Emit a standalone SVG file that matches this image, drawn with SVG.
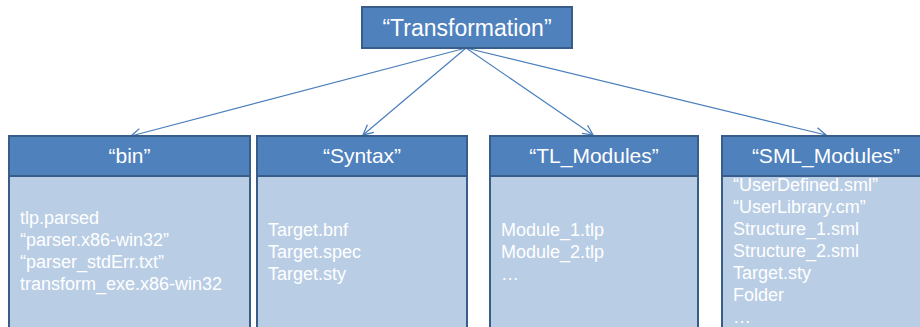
<svg xmlns="http://www.w3.org/2000/svg" width="920" height="327" viewBox="0 0 920 327">
  <style>
    .head { fill: #4f81bd; stroke: #385d8a; stroke-width: 2; }
    .body { fill: #b9cde5; stroke: #385d8a; stroke-width: 2; }
    .title { font-family: "Liberation Sans", Arial, sans-serif; fill: #ffffff; text-anchor: middle; }
    .item { font-family: "Liberation Sans", Arial, sans-serif; font-size: 18px; fill: #ffffff; }
    .link { stroke: #4a7ebb; stroke-width: 1.2; fill: none; marker-end: url(#arrow); }
  </style>
  <defs>
    <marker id="arrow" viewBox="0 0 12 12" refX="11" refY="6" markerWidth="12" markerHeight="12" markerUnits="userSpaceOnUse" orient="auto">
      <path d="M1,1 L11,6 L1,11" fill="none" stroke="#4a7ebb" stroke-width="1.3"/>
    </marker>
  </defs>

  <rect width="920" height="327" fill="#ffffff"/>

  <!-- connectors from the root folder to its sub-folders -->
  <g id="connectors">
    <line class="link" x1="466" y1="48" x2="131" y2="136"/>
    <line class="link" x1="466" y1="48" x2="363" y2="135"/>
    <line class="link" x1="466" y1="48" x2="593" y2="135"/>
    <line class="link" x1="466" y1="48" x2="826" y2="135"/>
  </g>

  <g id="transformation">
    <rect class="head" x="362" y="7" width="210" height="41"/>
    <text class="title" x="467" y="36" font-size="23">“Transformation”</text>
  </g>

  <g id="bin">
    <rect class="body" x="9" y="136" width="241" height="210"/>
    <rect class="head" x="9" y="136" width="241" height="40"/>
    <text class="title" x="129.5" y="163" font-size="21">“bin”</text>
    <text class="item" x="20" y="224">tlp.parsed</text>
    <text class="item" x="20" y="246">“parser.x86-win32”</text>
    <text class="item" x="20" y="268">“parser_stdErr.txt”</text>
    <text class="item" x="20" y="290">transform_exe.x86-win32</text>
  </g>

  <g id="syntax">
    <rect class="body" x="257" y="136" width="210" height="210"/>
    <rect class="head" x="257" y="136" width="210" height="40"/>
    <text class="title" x="362" y="163" font-size="21">“Syntax”</text>
    <text class="item" x="268" y="236">Target.bnf</text>
    <text class="item" x="268" y="258">Target.spec</text>
    <text class="item" x="268" y="280">Target.sty</text>
  </g>

  <g id="tl-modules">
    <rect class="body" x="490" y="136" width="208" height="210"/>
    <rect class="head" x="490" y="136" width="208" height="40"/>
    <text class="title" x="594" y="163" font-size="21">“TL_Modules”</text>
    <text class="item" x="501" y="236">Module_1.tlp</text>
    <text class="item" x="501" y="258">Module_2.tlp</text>
    <text class="item" x="501" y="280">…</text>
  </g>

  <g id="sml-modules">
    <rect class="body" x="722" y="136" width="210" height="210"/>
    <rect class="head" x="722" y="136" width="210" height="40"/>
    <text class="title" x="826" y="163" font-size="21">“SML_Modules”</text>
    <text class="item" x="733" y="191">“UserDefined.sml”</text>
    <text class="item" x="733" y="213">“UserLibrary.cm”</text>
    <text class="item" x="733" y="235">Structure_1.sml</text>
    <text class="item" x="733" y="257">Structure_2.sml</text>
    <text class="item" x="733" y="279">Target.sty</text>
    <text class="item" x="733" y="301">Folder</text>
    <text class="item" x="733" y="323">…</text>
  </g>
</svg>
